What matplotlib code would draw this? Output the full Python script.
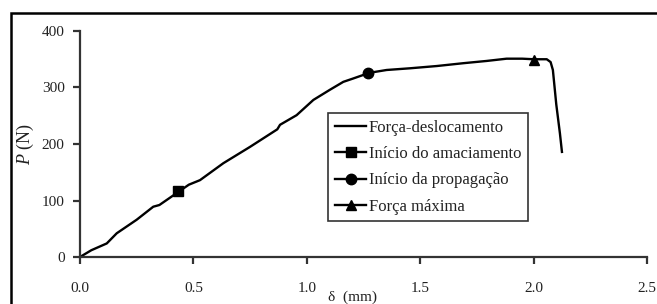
import matplotlib
matplotlib.use("Agg")
import matplotlib.pyplot as plt
from matplotlib.patches import Rectangle

plt.rcParams['font.family'] = ['Liberation Serif', 'DejaVu Serif']
plt.rcParams['mathtext.fontset'] = 'custom'
plt.rcParams['mathtext.it'] = 'Liberation Serif:italic'
plt.rcParams['mathtext.rm'] = 'Liberation Serif'

# Force-displacement curve
delta = [0.0, 0.05, 0.118, 0.162, 0.25, 0.323, 0.35, 0.433, 0.48, 0.529, 0.632, 0.75,
         0.87, 0.882, 0.955, 1.029, 1.102, 1.161, 1.205, 1.276, 1.352, 1.455, 1.573,
         1.69, 1.793, 1.881, 1.95, 2.0, 2.058, 2.075, 2.085, 2.10, 2.116, 2.125]
force = [0, 12, 24, 42, 66, 89, 92, 115, 128, 136, 166, 195,
         226, 234, 251, 278, 296, 310, 316, 326, 331, 334, 338,
         343, 347, 351, 351, 350, 350, 345, 331, 270, 219, 186]

# Key points
soft_x, soft_y = [0.43], [116]
prop_x, prop_y = [1.27], [326]
max_x, max_y = [2.0], [348]

x_ticks = [0.0, 0.5, 1.0, 1.5, 2.0, 2.5]
x_ticklabels = ['0.0', '0.5', '1.0', '1.5', '2.0', '2.5']
y_ticks = [0, 100, 200, 300, 400]

W, H = 657, 304
fig = plt.figure(figsize=(W / 100, H / 100), dpi=100)
ax = fig.add_axes([80 / W, 1 - 257 / H, (647 - 80) / W, (257 - 31) / H])

ax.plot(delta, force, color='black', lw=1.7, label='Força-deslocamento')
ax.plot(soft_x, soft_y, color='black', lw=1.7, marker='s', ms=6.5, label='Início do amaciamento')
ax.plot(prop_x, prop_y, color='black', lw=1.7, marker='o', ms=7.5, label='Início da propagação')
ax.plot(max_x, max_y, color='black', lw=1.7, marker='^', ms=7.5, label='Força máxima')

ax.set_xlim(0, 2.5)
ax.set_ylim(0, 400)
ax.set_xticks(x_ticks)
ax.set_xticklabels(x_ticklabels)
ax.set_yticks(y_ticks)
for s in ['top', 'right']:
    ax.spines[s].set_visible(False)
for s in ['left', 'bottom']:
    ax.spines[s].set_color('#333333')
    ax.spines[s].set_linewidth(1.6)
ax.tick_params(direction='out', length=5, width=1.6, color='#333333',
               labelsize=11, labelcolor='#222222')
ax.tick_params(axis='x', pad=13)
ax.tick_params(axis='y', pad=6)

ax.set_ylabel('$P$ (N)', fontsize=13, color='#222222', labelpad=4)
fig.text(352 / W, 1 - 297 / H, 'δ  (mm)', fontsize=11, color='#222222',
         ha='center', va='center')

leg = ax.legend(loc='upper left', bbox_to_anchor=((328 - 80) / 567, (257 - 113) / 226),
                frameon=True, fancybox=False, fontsize=12, handlelength=1.9,
                handletextpad=0.15, borderpad=0.4, borderaxespad=0,
                labelspacing=0.62, edgecolor='black')
leg.get_frame().set_linewidth(1.2)
for t in leg.get_texts():
    t.set_color('#222222')

# outer frame
fig.patches.append(Rectangle((11 / W, -0.1), 1.2, 1 - 13 / H + 0.1,
                             transform=fig.transFigure, fill=False,
                             edgecolor='black', lw=1.8))

fig.savefig('out.png', dpi=100)
